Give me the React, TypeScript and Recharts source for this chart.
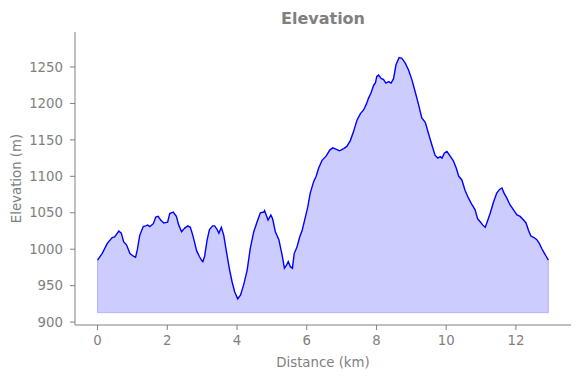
import { ComposedChart, Area, Line, XAxis, YAxis, Label, ReferenceLine } from 'recharts';

const distanceKm = [
  0, 0.13, 0.28, 0.42, 0.49, 0.61, 0.68, 0.75, 0.83, 0.93, 1.04, 1.09, 1.14, 1.21, 1.31, 1.38, 1.44, 1.5,
  1.6, 1.67, 1.74, 1.81, 1.9, 2.01, 2.07, 2.17, 2.26, 2.33, 2.41, 2.5, 2.59, 2.66, 2.72, 2.78, 2.84, 2.92,
  2.98, 3.02, 3.07, 3.14, 3.21, 3.3, 3.36, 3.43, 3.48, 3.55, 3.62, 3.72, 3.79, 3.86, 3.93, 4.02, 4.1, 4.19,
  4.29, 4.38, 4.48, 4.58, 4.67, 4.77, 4.79, 4.89, 4.97, 5.02, 5.1, 5.2, 5.29, 5.36, 5.42, 5.47, 5.53, 5.59,
  5.64, 5.72, 5.8, 5.87, 5.96, 6.03, 6.1, 6.2, 6.27, 6.34, 6.44, 6.56, 6.66, 6.75, 6.85, 6.94, 7.06, 7.15,
  7.25, 7.34, 7.44, 7.54, 7.63, 7.71, 7.77, 7.84, 7.92, 7.97, 8.01, 8.06, 8.14, 8.2, 8.27, 8.35, 8.42, 8.49,
  8.56, 8.65, 8.73, 8.83, 8.92, 9.02, 9.11, 9.21, 9.3, 9.4, 9.49, 9.59, 9.68, 9.76, 9.83, 9.88, 9.95, 10.02,
  10.11, 10.21, 10.29, 10.36, 10.45, 10.54, 10.64, 10.74, 10.83, 10.9, 10.97, 11.05, 11.12, 11.18, 11.26,
  11.36, 11.45, 11.53, 11.6, 11.66, 11.74, 11.83, 11.93, 12.03, 12.12, 12.22, 12.29, 12.36, 12.43, 12.52,
  12.6, 12.67, 12.74, 12.81, 12.87, 12.93,
];

const elevationM = [
  985, 994, 1008, 1016, 1017, 1025, 1022, 1010, 1006, 994, 990, 989, 999, 1019, 1031, 1032, 1033, 1031,
  1035, 1044, 1045, 1040, 1036, 1037, 1049, 1051, 1045, 1033, 1024, 1029, 1032, 1030, 1021, 1010, 998, 990,
  985, 983, 990, 1012, 1027, 1032, 1032, 1027, 1022, 1030, 1019, 990, 971, 955, 942, 932, 937, 951,
  971, 1001, 1024, 1038, 1050, 1051, 1053, 1040, 1047, 1042, 1024, 1013, 993, 974, 978, 983, 976, 974,
  994, 1003, 1017, 1026, 1044, 1058, 1077, 1093, 1100, 1111, 1122, 1128, 1136, 1139, 1137, 1135, 1138, 1141,
  1149, 1161, 1177, 1186, 1191, 1199, 1207, 1214, 1225, 1228, 1237, 1239, 1234, 1233, 1228, 1230, 1228, 1234,
  1253, 1263, 1262, 1255, 1246, 1232, 1216, 1198, 1180, 1174, 1159, 1143, 1129, 1125, 1127, 1125, 1132, 1134,
  1128, 1121, 1111, 1100, 1095, 1081, 1070, 1061, 1054, 1042, 1038, 1033, 1030, 1038, 1049,
  1065, 1077, 1082, 1084, 1077, 1070, 1061, 1054, 1047, 1045, 1040, 1036, 1026, 1018, 1016,
  1013, 1008, 1001, 995, 990, 985,
];

const xTicks = [0, 2, 4, 6, 8, 10, 12];
const yTicks = [900, 950, 1000, 1050, 1100, 1150, 1200, 1250];
const baseElevation = 913;

const data = distanceKm.map((d, i) => ({ distance: d, elevation: elevationM[i] }));

const gray = '#808080';
const edge = '#b3b3ff';
const font = '"DejaVu Sans", sans-serif';

const firstX = distanceKm[0];
const lastX = distanceKm[distanceKm.length - 1];

export default function App() {
  return (
    <div style={{ position: 'absolute', left: 0, top: 0, width: 580, height: 378, fontFamily: font }}>
      <div
        style={{
          position: 'absolute',
          left: 75,
          width: 496,
          top: 9,
          textAlign: 'center',
          fontSize: 16,
          fontWeight: 'bold',
          color: gray,
        }}
      >
        Elevation
      </div>
      <ComposedChart width={580} height={378} data={data} margin={{ top: 32, right: 9, bottom: 0, left: 0 }}>
        <XAxis
          dataKey="distance"
          type="number"
          domain={[-0.647, 13.58]}
          ticks={xTicks}
          allowDataOverflow
          height={53}
          stroke={gray}
          tickSize={5}
          tickMargin={6}
          tick={{ fill: gray, fontSize: 13.3, fontFamily: font }}
        >
          <Label
            value="Distance (km)"
            position="insideBottom"
            offset={11}
            style={{ fill: gray, fontSize: 13.3, fontFamily: font }}
          />
        </XAxis>
        <YAxis
          type="number"
          domain={[896, 1298]}
          ticks={yTicks}
          allowDataOverflow
          width={75}
          stroke={gray}
          tickSize={5}
          tickMargin={7}
          tick={{ fill: gray, fontSize: 13.3, fontFamily: font }}
        >
          <Label
            value="Elevation (m)"
            angle={-90}
            position="insideLeft"
            offset={16}
            style={{ fill: gray, fontSize: 13.3, fontFamily: font, textAnchor: 'middle' }}
          />
        </YAxis>
        <Area
          dataKey="elevation"
          type="linear"
          baseValue={baseElevation}
          fill="#ccccff"
          fillOpacity={1}
          stroke="none"
          isAnimationActive={false}
        />
        <ReferenceLine
          segment={[
            { x: firstX, y: baseElevation },
            { x: lastX, y: baseElevation },
          ]}
          stroke={edge}
          strokeWidth={1}
        />
        <ReferenceLine
          segment={[
            { x: firstX, y: baseElevation },
            { x: firstX, y: elevationM[0] },
          ]}
          stroke={edge}
          strokeWidth={1}
        />
        <ReferenceLine
          segment={[
            { x: lastX, y: baseElevation },
            { x: lastX, y: elevationM[elevationM.length - 1] },
          ]}
          stroke={edge}
          strokeWidth={1}
        />
        <Line
          dataKey="elevation"
          type="linear"
          stroke="#0000ff"
          strokeWidth={1.4}
          dot={false}
          activeDot={false}
          isAnimationActive={false}
        />
      </ComposedChart>
    </div>
  );
}
